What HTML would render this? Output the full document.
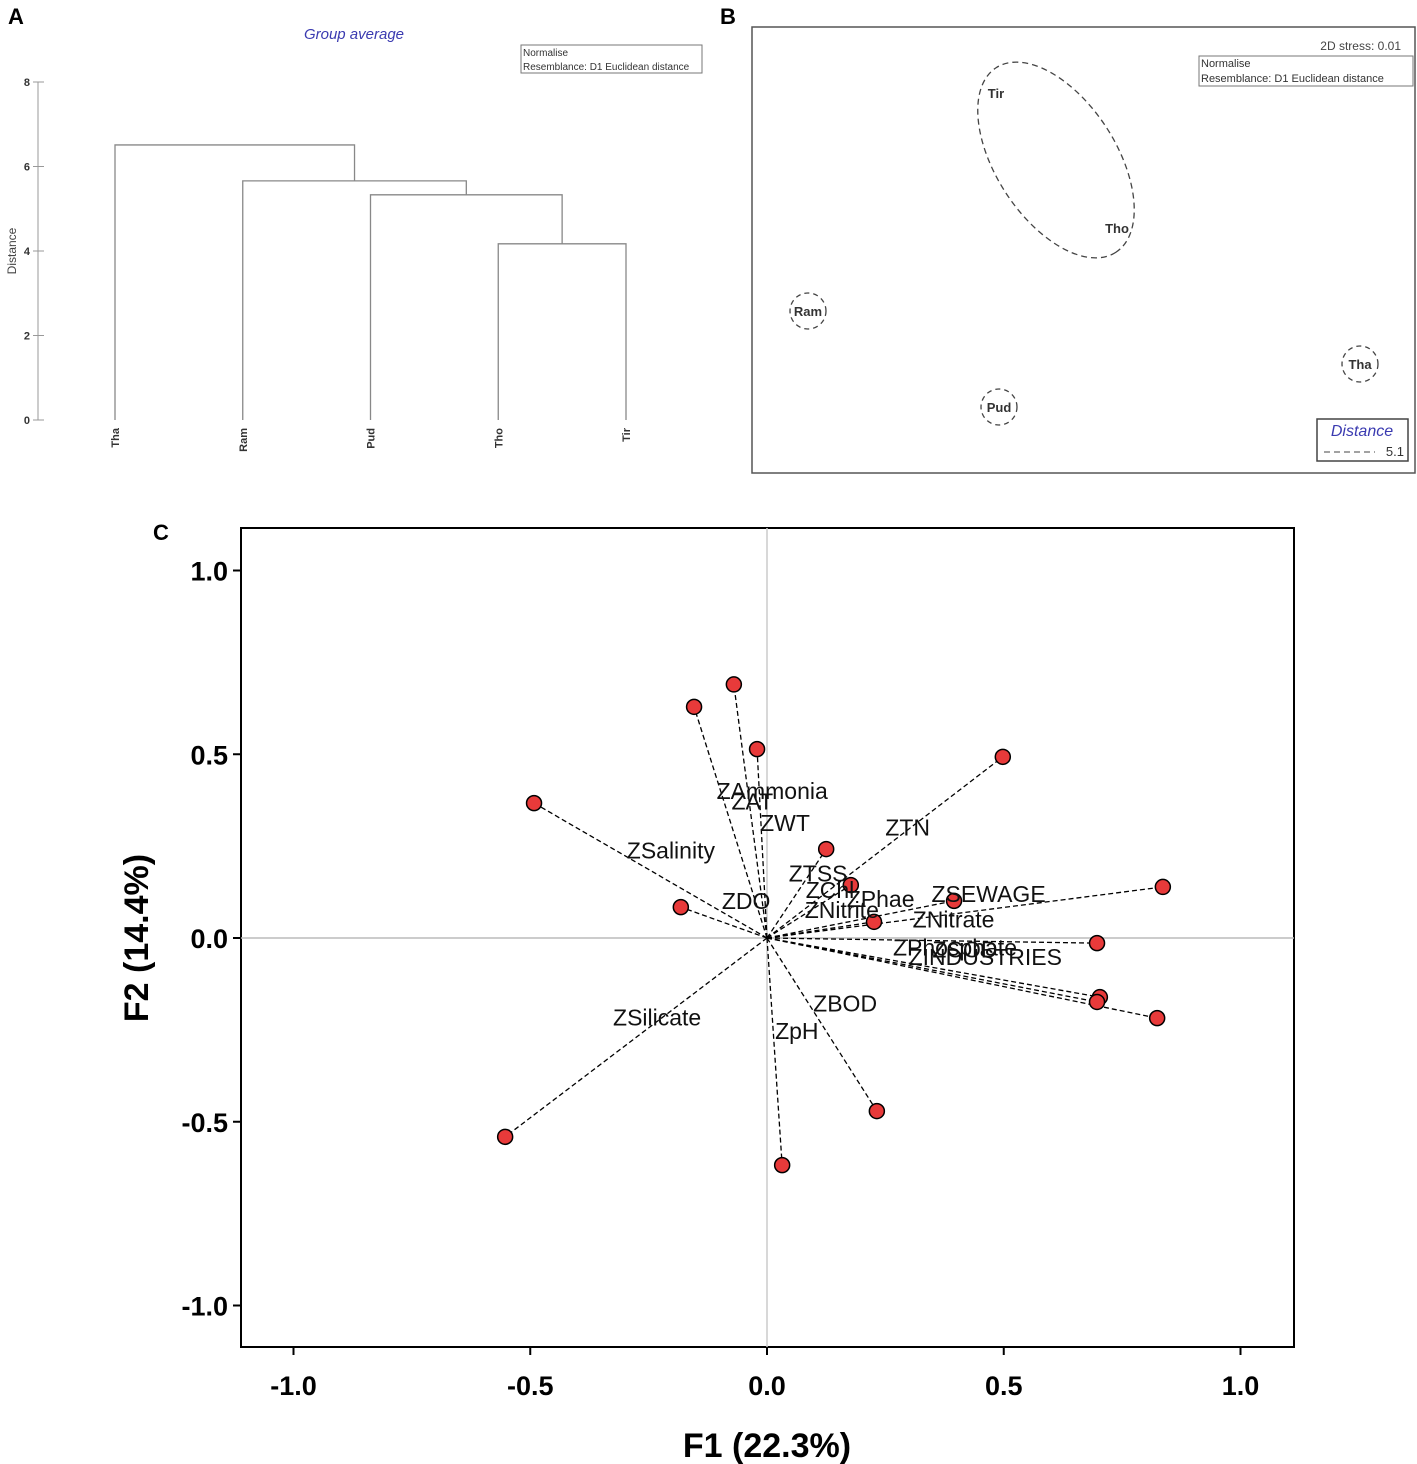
<!DOCTYPE html>
<html><head><meta charset="utf-8"><style>
body{margin:0;background:#fff}
svg{display:block;font-family:"Liberation Sans",sans-serif}
</style></head><body>
<svg id="fig" width="1417" height="1464" viewBox="0 0 1417 1464" xmlns="http://www.w3.org/2000/svg">
<text x="8" y="24" font-size="22" font-weight="bold">A</text>
<text x="720" y="24" font-size="22" font-weight="bold">B</text>
<text x="153" y="540" font-size="22" font-weight="bold">C</text>
<g id="pa">
<text x="354" y="39" font-size="15" font-style="italic" fill="#3a3ab0" text-anchor="middle">Group average</text>
<rect x="521" y="45" width="181" height="28" fill="#fff" stroke="#777"/>
<text x="523" y="56" font-size="10" fill="#333">Normalise</text>
<text x="523" y="70" font-size="10" fill="#333">Resemblance: D1 Euclidean distance</text>
<text transform="translate(16,251) rotate(-90)" font-size="12" fill="#444" text-anchor="middle">Distance</text>
<line x1="38" y1="82" x2="38" y2="420" stroke="#999"/>
</g>
<g id="pb">
<rect x="752" y="27" width="663" height="446" fill="none" stroke="#555" stroke-width="1.5"/>
<text x="1401" y="50" font-size="12" fill="#444" text-anchor="end">2D stress: 0.01</text>
<rect x="1199" y="56" width="214" height="30" fill="#fff" stroke="#777"/>
<text x="1201" y="67" font-size="11" fill="#333">Normalise</text>
<text x="1201" y="82" font-size="11" fill="#333">Resemblance: D1 Euclidean distance</text>
<ellipse cx="1056" cy="160" rx="110" ry="60" transform="rotate(57 1056 160)" fill="none" stroke="#444" stroke-width="1.3" stroke-dasharray="6,4"/>
<text x="996" y="98" font-size="13" font-weight="bold" fill="#333" text-anchor="middle">Tir</text>
<text x="1117" y="233" font-size="13" font-weight="bold" fill="#333" text-anchor="middle">Tho</text>
<circle cx="808" cy="311" r="18" fill="none" stroke="#444" stroke-width="1.3" stroke-dasharray="5,4"/>
<text x="808" y="316" font-size="13" font-weight="bold" fill="#333" text-anchor="middle">Ram</text>
<circle cx="999" cy="407" r="18" fill="none" stroke="#444" stroke-width="1.3" stroke-dasharray="5,4"/>
<text x="999" y="412" font-size="13" font-weight="bold" fill="#333" text-anchor="middle">Pud</text>
<circle cx="1360" cy="364" r="18" fill="none" stroke="#444" stroke-width="1.3" stroke-dasharray="5,4"/>
<text x="1360" y="369" font-size="13" font-weight="bold" fill="#333" text-anchor="middle">Tha</text>
<rect x="1317" y="419" width="91" height="42" fill="#fff" stroke="#444" stroke-width="1.5"/>
<text x="1362" y="436" font-size="16" font-style="italic" fill="#3a3ab0" text-anchor="middle">Distance</text>
<line x1="1324" y1="452" x2="1375" y2="452" stroke="#444" stroke-dasharray="6,4"/>
<text x="1404" y="456" font-size="13" fill="#333" text-anchor="end">5.1</text>
</g>
<g id="pc">
<rect x="241" y="528" width="1053" height="819" fill="none" stroke="#000" stroke-width="2"/>
<text transform="translate(148,938) rotate(-90)" font-size="34" font-weight="bold" text-anchor="middle">F2 (14.4%)</text>
<text x="767" y="1457" font-size="34" font-weight="bold" text-anchor="middle">F1 (22.3%)</text>
</g>
</svg>
<script>
const NS='http://www.w3.org/2000/svg';
// Dendrogram data
const leaves=['Tha','Ram','Pud','Tho','Tir'];
const mergeHeights=[4.17,5.33,5.66,6.51]; // Tho-Tir, Pud-(..), Ram-(..), Tha-(..)
const distTicks=[0,2,4,6,8];
// PCA data
const varNames=['ZAmmonia','ZAT','ZWT','ZSalinity','ZTN','ZTSS','ZChl','ZDO','ZPhae','ZNitrite','ZSEWAGE','ZNitrate','ZPhosphate','ZCOD','ZINDUSTRIES','ZBOD','ZSilicate','ZpH'];
const f1Values=[-0.07,-0.154,-0.021,-0.492,0.498,0.125,0.177,-0.182,0.395,0.226,0.836,0.697,0.703,0.697,0.824,0.232,-0.553,0.032];
const f2Values=[0.69,0.629,0.514,0.367,0.493,0.242,0.144,0.084,0.101,0.044,0.139,-0.014,-0.161,-0.174,-0.218,-0.471,-0.541,-0.618];
const labelF1=[0.011,-0.031,0.038,-0.203,0.297,0.108,0.133,-0.044,0.24,0.158,0.468,0.394,0.397,0.418,0.461,0.165,-0.232,0.063];
const labelF2=[0.4,0.371,0.313,0.238,0.301,0.176,0.13,0.101,0.106,0.076,0.12,0.05,-0.026,-0.031,-0.052,-0.178,-0.216,-0.253];
const axisTicks=[-1.0,-0.5,0.0,0.5,1.0];
const svg=document.getElementById('fig');
function mk(tag,attrs,parent,txt){const e=document.createElementNS(NS,tag);for(const k in attrs)e.setAttribute(k,attrs[k]);if(txt!==undefined)e.textContent=txt;parent.appendChild(e);return e;}
// Dendrogram
const pa=document.getElementById('pa');
const dy=v=>420-v*42.25;
const lx=i=>115+i*127.75;
distTicks.forEach(t=>{
 const tk=mk('line',{x1:33,x2:44,y1:dy(t),y2:dy(t),stroke:'#999'},pa);
 
 
 const tl=mk('text',{x:30,y:dy(t)+4,'font-size':11,'font-weight':'bold',fill:'#333','text-anchor':'end'},pa,String(t));
 
 
});
leaves.forEach((n,i)=>{
 const t=mk('text',{transform:`translate(${lx(i)+4},428) rotate(-90)`,'font-size':11,'font-weight':'bold',fill:'#333','text-anchor':'end'},pa,n);
 
 
});
// merges: build from right
let node={x:null,h:0};
const order=[[3,4],[2],[1],[0]];
let cur={x:(lx(3)+lx(4))/2,h:mergeHeights[0]};
function drawU(x1,h1,x2,h2,h){
 const p=mk('path',{d:`M${x1},${dy(h1)}V${dy(h)}H${x2}V${dy(h2)}`,fill:'none',stroke:'#888','stroke-width':1.3},pa);
 
 
}
drawU(lx(3),0,lx(4),0,mergeHeights[0]);
[2,1,0].forEach((li,k)=>{
 const h=mergeHeights[k+1];
 drawU(lx(li),0,cur.x,cur.h,h);
 cur={x:(lx(li)+cur.x)/2,h:h};
});
// PCA
const pc=document.getElementById('pc');
const X=v=>767+v*473.5, Y=v=>938-v*367.5;
const zx=mk('line',{x1:241,x2:1294,y1:Y(0),y2:Y(0),stroke:'#bbb','stroke-width':1.5},pc);


const zy=mk('line',{x1:X(0),x2:X(0),y1:528,y2:1347,stroke:'#ccc','stroke-width':1.5},pc);


axisTicks.forEach(t=>{
 const a=mk('line',{x1:233,x2:241,y1:Y(t),y2:Y(t),stroke:'#000','stroke-width':2},pc);
 
 
 const b=mk('text',{x:228,y:Y(t)+10,'font-size':27,'font-weight':'bold','text-anchor':'end'},pc,t.toFixed(1));
 
 
 const c=mk('line',{x1:X(t),x2:X(t),y1:1347,y2:1355,stroke:'#000','stroke-width':2},pc);
 
 
 const d=mk('text',{x:X(t),y:1395,'font-size':27,'font-weight':'bold','text-anchor':'middle'},pc,t.toFixed(1));
 
 
});
varNames.forEach((n,i)=>{
 const l=mk('line',{x1:X(0),y1:Y(0),x2:X(f1Values[i]),y2:Y(f2Values[i]),stroke:'#000','stroke-width':1.3,'stroke-dasharray':'5,3'},pc);
 
 
});
varNames.forEach((n,i)=>{
 const c=mk('circle',{cx:X(f1Values[i]),cy:Y(f2Values[i]),r:7.5,fill:'#e83a3a',stroke:'#000','stroke-width':1.5},pc);
 
 
});
varNames.forEach((n,i)=>{
 const t=mk('text',{x:X(labelF1[i]),y:Y(labelF2[i])+8,'font-size':23,'text-anchor':'middle',fill:'#111'},pc,n);
 
 
});
</script>
</body></html>
